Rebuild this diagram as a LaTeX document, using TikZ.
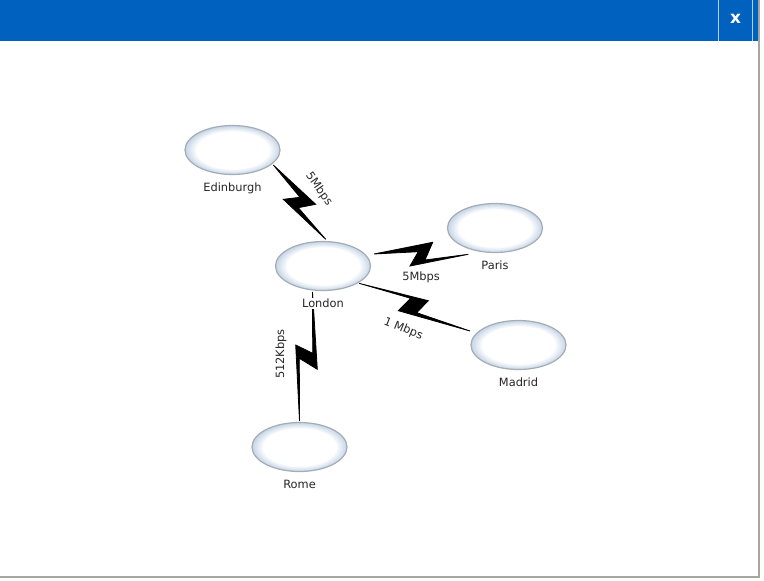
\documentclass[tikz,border=0pt]{standalone}
\usepackage{fontspec}
\setmainfont{DejaVu Sans}
\usetikzlibrary{positioning,calc,shapes.geometric}
\definecolor{barblue}{RGB}{0,98,190}
\definecolor{rimblue}{RGB}{196,212,230}
\definecolor{rimgrey}{RGB}{165,172,180}
\definecolor{framegrey}{RGB}{165,167,160}
\pgfdeclareradialshading{siteglow}{\pgfpointorigin}{color(0bp)=(white); color(19bp)=(white); color(25bp)=(rimblue); color(50bp)=(rimblue)}
\tikzset{
  site/.style={ellipse, draw=rimgrey, line width=1.2pt, shading=siteglow, inner sep=0pt,
    minimum width=95pt, minimum height=49pt},
  sitename/.style={font=\fontsize{11.4}{13}\selectfont, text=black!85, inner sep=1pt, fill=white},
  speed/.style={font=\fontsize{11.4}{13}\selectfont, text=black!85, inner sep=0pt},
  bolt/.style={fill=black, draw=black, line width=0.8pt, line join=miter},
}

\begin{document}
\begin{tikzpicture}[x=1pt, y=-1pt]
  \useasboundingbox (0,0) rectangle (764,581);
  % window frame
  \node[draw=none, fill=barblue, minimum width=758pt, minimum height=41pt, inner sep=0pt, anchor=north west] (bar) at (0,0) {};
  \draw[framegrey, line width=2.5pt] (759.2,0) -- (759.2,577.2) -- (0,577.2);
  \draw[white!70!barblue, line width=0.8pt] (718.3,0) -- (718.3,41);
  \draw[white!70!barblue, line width=0.8pt] (752.3,0) -- (752.3,41);
  \node[text=white, font=\fontsize{17}{18}\selectfont\bfseries, inner sep=0pt] (closex) at (735.7,18.5) {x};
  % sites
  \node[site] (edinburgh) at (232.5,150) {};
  \node[site] (london) at (323,266) {};
  \node[site] (paris) at (495,228) {};
  \node[site] (madrid) at (518.5,345) {};
  \node[site] (rome) at (299.5,447) {};
  % links
  \draw[bolt] ($(edinburgh)+(40.8,15)$) -- (315.7,204.3) -- (298.3,207.7) -- ($(london)+(2.7,-26.7)$)
    -- (283.3,199.3) -- (300,197.3) -- cycle;
  \draw[bolt] ($(london)+(51,-12)$) -- (432.7,242.3) -- (425,260) -- ($(paris)+(-26.7,26.3)$)
    -- (410,266) -- (418.3,251.7) -- cycle;
  \draw[bolt] ($(london)+(36,17.3)$) -- (428.3,300.7) -- (416.7,312.7) -- ($(madrid)+(-48.5,-14)$)
    -- (398.3,310.7) -- (410.7,298.3) -- cycle;
  \draw[bolt] ($(london)+(-10.5,26)$) -- (317.3,369.3) -- (299.3,358.3) -- ($(rome)+(0,-26)$)
    -- (295.7,345) -- (312.7,353.3) -- cycle;
  % names
  \foreach \s/\t in {edinburgh/Edinburgh, london/London, paris/Paris, madrid/Madrid, rome/Rome}
    \node[sitename, below=6.5pt of \s] (\s-name) {\t};
  % speeds
  \node[speed, rotate=-55] (speed-e) at (319,189) {5Mbps};
  \node[speed] (speed-p) at (421,277.3) {5Mbps};
  \node[speed, rotate=-22] (speed-m) at (403.3,329) {1 Mbps};
  \node[speed, rotate=90] (speed-r) at (281,354) {512Kbps};
\end{tikzpicture}
\end{document}
